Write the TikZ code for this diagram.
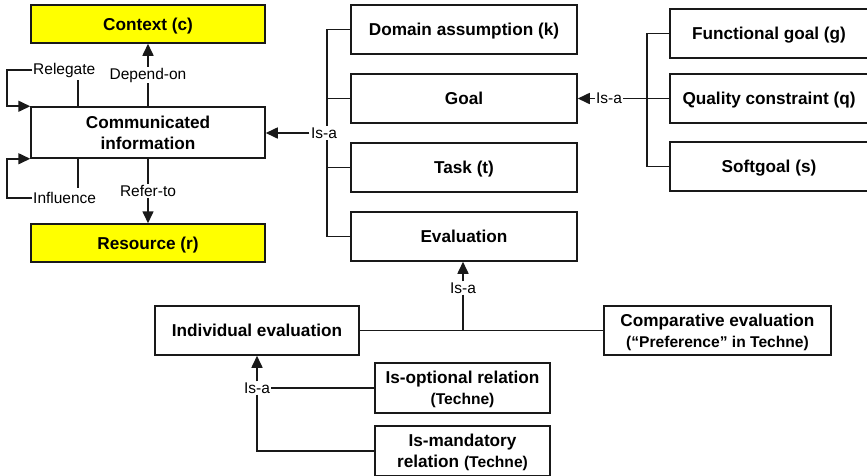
\documentclass[tikz,border=0pt]{standalone}
\usepackage{fontspec}
\setmainfont{Liberation Sans}
\usetikzlibrary{arrows.meta,calc}
\definecolor{boxyellow}{RGB}{255,255,0}
% smaller bold text for the (Techne) remarks
\newcommand\remark[1]{{\fontsize{15.6}{21}\selectfont #1}}
\tikzset{
  every picture/.style={x=1pt,y=-1pt},
  box/.style={draw=black!90,line width=1.5pt,fill=white,align=center,inner sep=0pt,
    font=\fontsize{17.2}{21}\selectfont\bfseries},
  one/.style={text height=12.3pt,text depth=0pt},
  two/.style={text height=33.3pt,text depth=0pt},
  ybox/.style={box,fill=boxyellow},
  lbl/.style={font=\fontsize{15.5}{18}\selectfont,inner sep=1pt},
  wlbl/.style={lbl,fill=white,inner sep=1.5pt},
  link/.style={line width=1.6pt,draw=black!90},
  arr/.style={link,-{Triangle[length=12pt,width=11pt]}}
}
\begin{document}
\begin{tikzpicture}
\useasboundingbox (0,0) rectangle (867,475);
\clip (0,0) rectangle (867,475);

% communication side
\node[ybox,one,minimum width=234pt,minimum height=38pt] (ctx) at (148,24) {Context (c)};
\node[box,two,minimum width=234pt,minimum height=51pt] (comm) at (148,132.5) {Communicated\\information};
\node[ybox,one,minimum width=234pt,minimum height=38pt] (res) at (148,243) {Resource (r)};

% central element types
\node[box,one,minimum width=226pt,minimum height=49pt] (dom) at (464,29.5) {Domain assumption (k)};
\node[box,one,minimum width=226pt,minimum height=49pt] (goal) at (464,98.5) {Goal};
\node[box,one,minimum width=226pt,minimum height=49pt] (task) at (464,167.5) {Task (t)};
\node[box,one,minimum width=226pt,minimum height=49pt] (eval) at (464,236.5) {Evaluation};

% goal subtypes
\node[box,one,minimum width=198pt,minimum height=49pt] (fg) at (769,33.5) {Functional goal (g)};
\node[box,one,minimum width=198pt,minimum height=49pt] (qc) at (769,98.5) {Quality constraint (q)};
\node[box,one,minimum width=198pt,minimum height=49pt] (sg) at (769,166.5) {Softgoal (s)};

% evaluation subtypes
\node[box,one,minimum width=204pt,minimum height=49pt] (ind) at (257,330.5) {Individual evaluation};
\node[box,two,minimum width=227pt,minimum height=49pt] (cmp) at (717.5,330.5) {Comparative evaluation\\\remark{(“Preference” in Techne)}};
\node[box,two,minimum width=175pt,minimum height=50pt] (opt) at (462.5,388) {Is-optional relation\\\remark{(Techne)}};
\node[box,two,minimum width=175pt,minimum height=50pt] (man) at (462.5,451) {Is-mandatory\\relation \remark{(Techne)}};

% Is-a bracket of the central types
\draw[link] (dom.west) -- ++(-23,0) |- (eval.west);
\draw[link] (goal.west) -- ++(-23,0);
\draw[link] (task.west) -- ++(-23,0);
\node[wlbl] (isa1) at (324,133) {Is-a};
\draw[arr] (isa1.west) -- (comm.east |- isa1.west);

% Is-a bracket of the goal subtypes
\draw[link] (fg.west) -- ++(-22,0) |- (sg.west);
\node[lbl] (isa2) at (609,98.5) {Is-a};
\draw[link] (isa2.east) -- (qc.west);
\draw[arr] (isa2.west) -- (goal.east);

% evaluation specialisation
\node[lbl] (isa3) at (463,288) {Is-a};
\draw[arr] (isa3.north) -- (isa3.north |- eval.south);
\coordinate (evj) at (463,330.5);
\draw[link] (isa3.south) -- (evj);
\draw[link] (ind.east) -- (cmp.west);

\node[lbl] (isa4) at (257,388) {Is-a};
\draw[arr] (isa4.north) -- (ind.south);
\draw[link] (isa4.east) -- (opt.west);
\draw[link] (isa4.south) |- (man.west);

% relations of communicated information
\node[lbl] (dep) at (148,75) {Depend-on};
\draw[link] (comm.north) -- (dep.south);
\draw[arr] (dep.north) -- (ctx.south);

\node[lbl] (ref) at (148,191) {Refer-to};
\draw[link] (comm.south) -- (ref.north);
\draw[arr] (ref.south) -- (res.north);

\node[lbl,anchor=west] (rel) at (32,70) {Relegate};
\coordinate (relc) at (7,70);
\draw[arr] (rel.west) -- (relc) |- (comm.north west);
\draw[link] (78,107) -- (78,80);

\node[lbl,anchor=west] (inf) at (32,198) {Influence};
\coordinate (infc) at (7,198);
\draw[arr] (inf.west) -- (infc) |- (comm.south west);
\draw[link] (78,158) -- (78,188);
\end{tikzpicture}
\end{document}
